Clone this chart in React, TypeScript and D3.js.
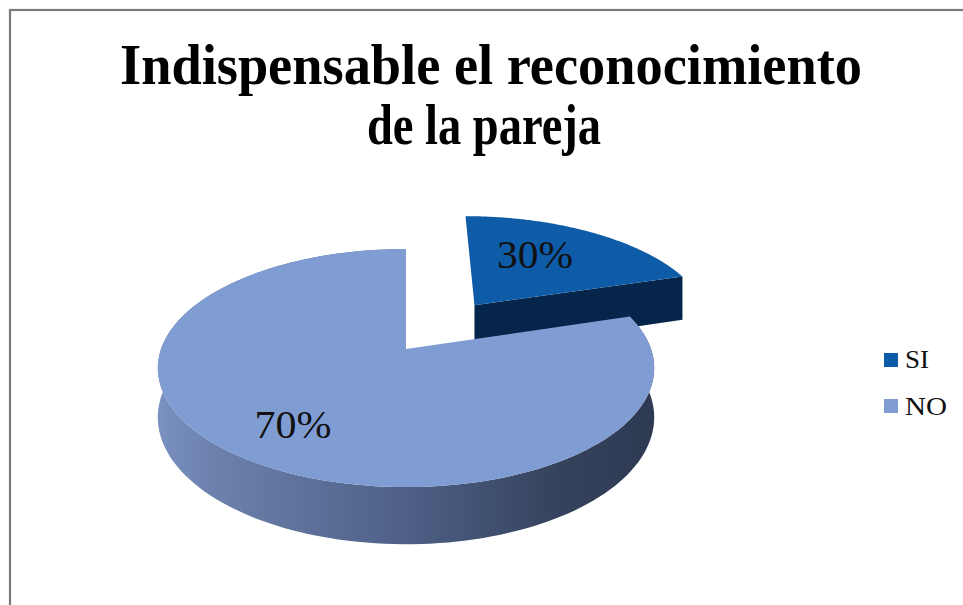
import React from "react";
import * as d3 from "d3";

const categories = ["SI", "NO"];
const values = [30, 70];
const pctLabels = ["30%", "70%"];
const titleLines = ["Indispensable el reconocimiento", "de la pareja"];

const W = 963;
const H = 605;
// projection (perspective-tilted pie)
const CX = 406, CY = 349, SX = 245, SY = 116, K = 0.16, DEPTH = 48;
const EXPLODE = [0.5, 0];
const LABEL_R = [0.5, 0.7];
const WARP_SPLIT = (73 * Math.PI) / 180; // on-screen angle where first slice ends

const topColors = ["#0e5ba8", "#809dd3"];
const sideColors = ["#05254a", "url(#noSide)"];

function proj(x: number, z: number, down = 0): [number, number] {
  const w = 1 + K * z;
  return [CX + (SX * x) / w, CY - (SY * z) / w + (DEPTH * down) / w];
}

export default function App() {
  const pie = d3.pie<number>().sort(null).value((d) => d);
  const arcs = pie(values);
  const split = arcs[0].endAngle;
  const warp = d3
    .scaleLinear()
    .domain([0, split, 2 * Math.PI])
    .range([0, WARP_SPLIT, 2 * Math.PI]);
  const line = d3.line();

  const slices = arcs.map((a, i) => {
    const a0 = warp(a.startAngle);
    const a1 = warp(a.endAngle);
    const mid = (a0 + a1) / 2;
    const ox = EXPLODE[i] * Math.sin(mid);
    const oz = EXPLODE[i] * Math.cos(mid);
    const pt = (ang: number, r: number, down = 0) =>
      proj(ox + r * Math.sin(ang), oz + r * Math.cos(ang), down);
    const n = 160;
    const angs = d3.range(n + 1).map((k) => a0 + ((a1 - a0) * k) / n);
    const topRim = angs.map((g) => pt(g, 1));
    const botRim = angs.map((g) => pt(g, 1, 1));
    const topFace = line([pt(0, 0), ...topRim, pt(0, 0)] as [number, number][]) + "Z";
    const band = line([...topRim, ...botRim.slice().reverse()] as [number, number][]) + "Z";
    const radial =
      line([pt(0, 0), pt(a1, 1), pt(a1, 1, 1), pt(0, 0, 1)] as [number, number][]) + "Z";
    const lp = pt(mid, LABEL_R[i]);
    return { i, topFace, band, radial, lp };
  });

  return (
    <svg
      width={W}
      height={H}
      style={{ position: "absolute", left: 0, top: 0, background: "#fff" }}
    >
      <defs>
        <linearGradient id="noSide" gradientUnits="userSpaceOnUse" x1={157} x2={655} y1={0} y2={0}>
          <stop offset="0" stopColor="#7a91c2" />
          <stop offset="0.12" stopColor="#6b80ab" />
          <stop offset="0.5" stopColor="#4e6087" />
          <stop offset="0.8" stopColor="#36435e" />
          <stop offset="1" stopColor="#2e3a52" />
        </linearGradient>
      </defs>
      <rect x={0} y={0} width={W} height={H} fill="#fff" />
      <rect x={10} y={10} width={1000} height={1000} fill="none" stroke="#7a7a7a" strokeWidth={2.2} />
      <g fontFamily="'Liberation Serif', 'DejaVu Serif', serif" fill="#000">
        <text x={491} y={84} fontSize={57} fontWeight="bold" textAnchor="middle"
          textLength={742} lengthAdjust="spacingAndGlyphs">{titleLines[0]}</text>
        <text x={484} y={144} fontSize={57} fontWeight="bold" textAnchor="middle"
          textLength={234} lengthAdjust="spacingAndGlyphs">{titleLines[1]}</text>
      </g>
      {/* far slice first */}
      <g>
        <path d={slices[0].radial} fill={sideColors[0]} />
        <path d={slices[0].topFace} fill={topColors[0]} />
      </g>
      <g>
        <path d={slices[1].band} fill={sideColors[1]} />
        <path d={slices[1].topFace} fill={topColors[1]} />
      </g>
      <g fontFamily="'Liberation Serif', serif" fontSize={40} fill="#111" textAnchor="middle">
        <text x={535} y={268} textLength={76} lengthAdjust="spacingAndGlyphs">{pctLabels[0]}</text>
        <text x={293} y={438} textLength={77} lengthAdjust="spacingAndGlyphs">{pctLabels[1]}</text>
      </g>
      <g fontFamily="'Liberation Serif', serif" fontSize={25} fill="#111">
        {categories.map((c, i) => (
          <g key={c}>
            <rect x={884} y={353 + i * 46} width={14} height={14} fill={topColors[i]} />
            <text x={905} y={368 + i * 47} textLength={i === 0 ? 24 : 42} lengthAdjust="spacingAndGlyphs">{c}</text>
          </g>
        ))}
      </g>
    </svg>
  );
}
